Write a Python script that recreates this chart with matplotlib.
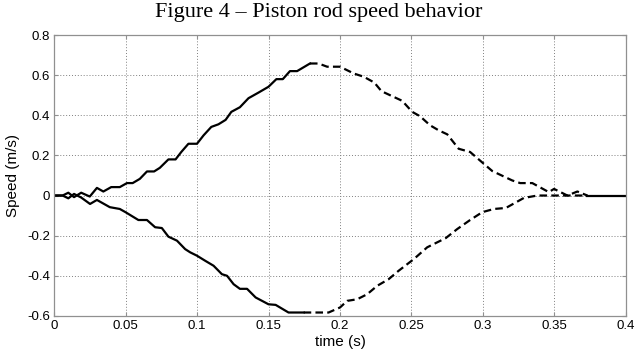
import matplotlib
matplotlib.use('Agg')
from matplotlib import pyplot as plt
import numpy as np

# Acceleration phase (solid) and braking phase (dashed), both directions
up_t = [0, 0.006, 0.010, 0.014, 0.019, 0.025, 0.030, 0.0345, 0.040, 0.046, 0.051, 0.055,
        0.060, 0.065, 0.070, 0.074, 0.080, 0.085, 0.089, 0.094, 0.100, 0.1046, 0.110,
        0.115, 0.120, 0.124, 0.130, 0.136, 0.143, 0.150, 0.1555, 0.160, 0.165, 0.170, 0.179]
up_v = [0, 0, 0.014, -0.008, 0.014, -0.005, 0.038, 0.02, 0.042, 0.042, 0.062, 0.062,
        0.083, 0.12, 0.12, 0.138, 0.18, 0.18, 0.217, 0.258, 0.258, 0.30, 0.342,
        0.355, 0.377, 0.417, 0.44, 0.485, 0.513, 0.542, 0.58, 0.58, 0.62, 0.62, 0.658]

up_brake_t = [0.179, 0.185, 0.191, 0.200, 0.2097, 0.2166, 0.224, 0.229, 0.235, 0.2435,
              0.2505, 0.256, 0.263, 0.269, 0.275, 0.283, 0.291, 0.3006, 0.3065, 0.3205,
              0.326, 0.3345, 0.346, 0.3497, 0.359, 0.366, 0.373]
up_brake_v = [0.658, 0.658, 0.642, 0.642, 0.608, 0.592, 0.563, 0.52, 0.50, 0.472,
              0.417, 0.395, 0.35, 0.325, 0.305, 0.233, 0.217, 0.158, 0.122, 0.075,
              0.062, 0.062, 0.017, 0.033, 0, 0.02, 0]

down_t = [0, 0.006, 0.010, 0.014, 0.019, 0.0252, 0.030, 0.039, 0.046, 0.050, 0.059, 0.065,
          0.0707, 0.0754, 0.080, 0.086, 0.0917, 0.0952, 0.100, 0.1057, 0.1116, 0.1174,
          0.121, 0.1256, 0.130, 0.135, 0.141, 0.150, 0.155, 0.164, 0.1746]
down_v = [0, 0, -0.014, 0.008, -0.01, -0.042, -0.022, -0.058, -0.067, -0.083, -0.122, -0.122,
          -0.158, -0.162, -0.205, -0.225, -0.267, -0.283, -0.30, -0.325, -0.35, -0.392,
          -0.40, -0.442, -0.465, -0.465, -0.508, -0.542, -0.545, -0.583, -0.583]

down_brake_t = [0.1746, 0.192, 0.200, 0.205, 0.212, 0.219, 0.226, 0.234, 0.241, 0.2516,
                0.261, 0.274, 0.282, 0.291, 0.2995, 0.3076, 0.316, 0.3286, 0.338, 0.373]
down_brake_v = [-0.583, -0.583, -0.558, -0.525, -0.517, -0.492, -0.45, -0.417, -0.375, -0.317,
                -0.258, -0.212, -0.167, -0.122, -0.083, -0.067, -0.062, -0.012, 0, 0]

rest_t = [0.373, 0.4]
rest_v = [0, 0]

xticks = [0, 0.05, 0.1, 0.15, 0.2, 0.25, 0.3, 0.35, 0.4]
xticklabels = ['0', '0.05', '0.1', '0.15', '0.2', '0.25', '0.3', '0.35', '0.4']
yticks = [-0.6, -0.4, -0.2, 0, 0.2, 0.4, 0.6, 0.8]
yticklabels = ['-0.6', '-0.4', '-0.2', '0', '0.2', '0.4', '0.6', '0.8']

plt.rcParams['font.family'] = ['Liberation Sans', 'DejaVu Sans']

fig = plt.figure(figsize=(6.37, 3.59), dpi=100)
ax = fig.add_axes([0.0848, 0.12, 0.8979, 0.7825])

lw = 1.6
ax.plot(up_t, up_v, color='black', lw=lw)
ax.plot(down_t, down_v, color='black', lw=lw)
ax.plot(up_brake_t, up_brake_v, color='black', lw=lw, dashes=(3.4, 1.9))
ax.plot(down_brake_t, down_brake_v, color='black', lw=lw, dashes=(3.4, 1.9))
ax.plot(rest_t, rest_v, color='black', lw=lw)

ax.set_xlim(0, 0.4)
ax.set_ylim(-0.6, 0.8)
ax.set_xticks(xticks)
ax.set_xticklabels(xticklabels)
ax.set_yticks(yticks)
ax.set_yticklabels(yticklabels)
ax.tick_params(direction='in', length=3, labelsize=9.5, color='#909090',
               top=True, right=True, pad=3)
for s in ax.spines.values():
    s.set_color('#909090')
    s.set_linewidth(0.9)
ax.grid(True, linestyle=(0, (1, 2)), color='#808080', linewidth=0.7)

ax.set_xlabel('time (s)', fontsize=11, labelpad=2)
ax.set_ylabel('Speed (m/s)', fontsize=11, labelpad=5)
fig.text(0.5, 0.965, 'Figure 4 \u2013 Piston rod speed behavior', ha='center', va='center',
         fontsize=16, family=['Liberation Serif', 'DejaVu Serif'])

plt.savefig('out.png', dpi=100)
